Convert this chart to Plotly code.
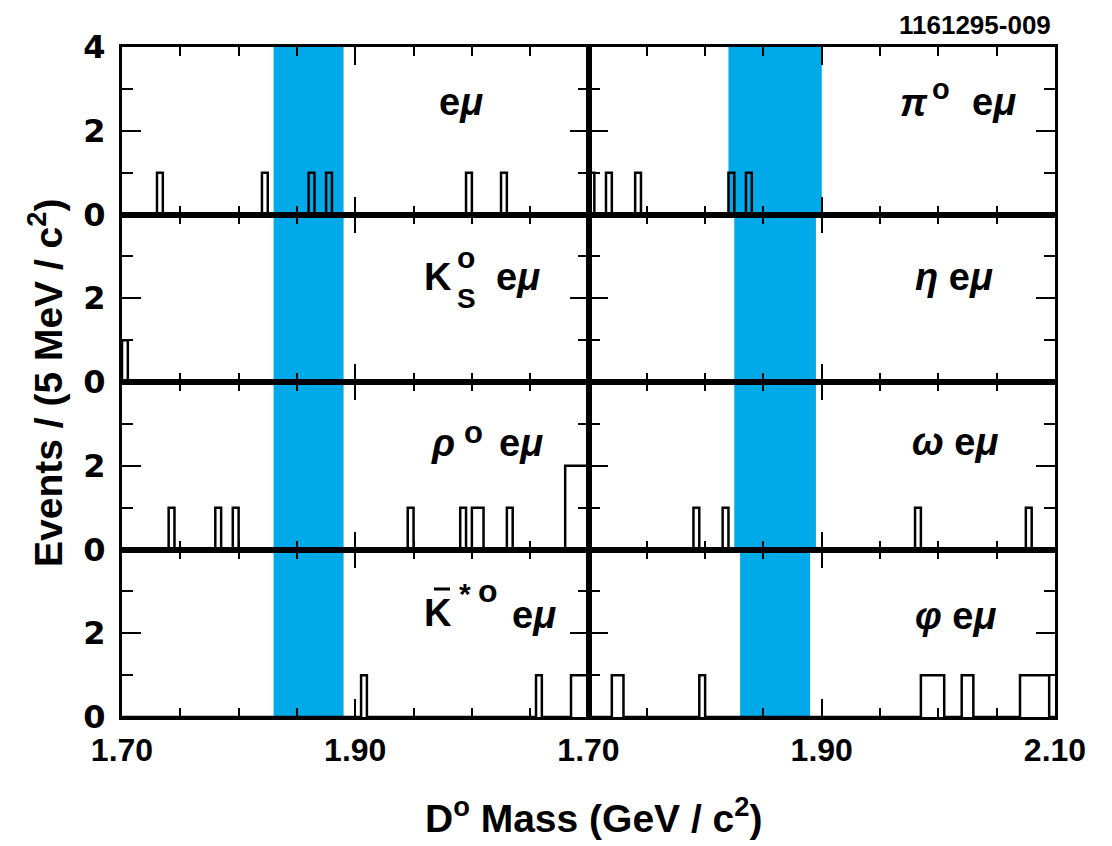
import plotly.graph_objects as go
from plotly.subplots import make_subplots

# ---------------- data ----------------
BIN_WIDTH = 0.005
X_MIN, X_MAX = 1.70, 2.10

# low edges of non-empty 5 MeV bins and their counts, one pair per decay mode
emu_bins = [1.730, 1.820, 1.860, 1.875, 1.995, 2.025]
emu_counts = [1, 1, 1, 1, 1, 1]

pi0_bins = [1.700, 1.715, 1.740, 1.820, 1.835]
pi0_counts = [1, 1, 1, 1, 1]

ks_bins = [1.700]
ks_counts = [1]

eta_bins = []
eta_counts = []

rho_bins = [1.740, 1.780, 1.795, 1.945, 1.990, 2.000, 2.005, 2.030, 2.080, 2.085, 2.090, 2.095]
rho_counts = [1, 1, 1, 1, 1, 1, 1, 1, 2, 2, 2, 2]

omega_bins = [1.790, 1.815, 1.980, 2.075]
omega_counts = [1, 1, 1, 1]

kstar_bins = [1.905, 2.055, 2.085, 2.090, 2.095]
kstar_counts = [1, 1, 1, 1, 1]

phi_bins = [1.720, 1.725, 1.795, 1.985, 1.990, 1.995, 2.000, 2.020, 2.025,
            2.070, 2.075, 2.080, 2.085, 2.090]
phi_counts = [1] * 14

# signal windows (GeV/c^2)
window_lo = [1.830, 1.820, 1.830, 1.825, 1.830, 1.825, 1.830, 1.830]
window_hi = [1.890, 1.900, 1.890, 1.895, 1.890, 1.895, 1.890, 1.890]

x_tick_vals = [1.70, 1.90, 2.10]
x_tick_text_left = ["1.70", "1.90", ""]
x_tick_text_right = ["1.70", "1.90", "2.10"]
y_tick_vals = [0, 2, 4]

panels = [
    (1, 1, emu_bins, emu_counts),
    (1, 2, pi0_bins, pi0_counts),
    (2, 1, ks_bins, ks_counts),
    (2, 2, eta_bins, eta_counts),
    (3, 1, rho_bins, rho_counts),
    (3, 2, omega_bins, omega_counts),
    (4, 1, kstar_bins, kstar_counts),
    (4, 2, phi_bins, phi_counts),
]

# ---------------- figure ----------------
OFF = 8  # page body margin
W, H = 1112 - OFF, 846 - OFF
ML, MT = 122 - OFF, 47 - OFF
MR = W - (1055 - OFF)
MB = H - (717 - OFF)
PW, PH = W - ML - MR, H - MT - MB

def paper(sx, sy):
    """screen pixel -> paper coords"""
    fx, fy = sx - OFF, sy - OFF
    return (fx - ML) / PW, (H - MB - fy) / PH

fig = make_subplots(rows=4, cols=2, horizontal_spacing=0, vertical_spacing=0)

nbins = int(round((X_MAX - X_MIN) / BIN_WIDTH))
for idx, (r, c, bins, counts) in enumerate(panels):
    full = [0] * nbins
    for b, n in zip(bins, counts):
        k = int(round((b - X_MIN) / BIN_WIDTH))
        full[k] += n
    xs = [X_MIN] + [X_MIN + i * BIN_WIDTH for i in range(nbins)] + [X_MAX, X_MAX]
    ys = [0] + full + [full[-1], 0]
    fig.add_trace(go.Scatter(x=xs, y=ys, mode="lines", line=dict(color="black", width=2.5, shape="hv"),
                             showlegend=False, hoverinfo="skip"), row=r, col=c)
    i = idx + 1
    xr = "x" if i == 1 else f"x{i}"
    yr = "y domain" if i == 1 else f"y{i} domain"
    fig.add_shape(type="rect", xref=xr, yref=yr, x0=window_lo[idx], x1=window_hi[idx], y0=0, y1=1,
                  fillcolor="#00A9E8", line_width=0, layer="below")

tick_font = dict(family="Liberation Sans", size=32, color="black", weight="bold")
for r in range(1, 5):
    for c in range(1, 3):
        fig.update_xaxes(row=r, col=c, range=[X_MIN, X_MAX], showgrid=False, zeroline=False,
                         showline=True, linewidth=3, linecolor="black", mirror="ticks",
                         ticks="inside", ticklen=18, tickwidth=2, tickcolor="black",
                         tickvals=x_tick_vals,
                         ticktext=x_tick_text_left if c == 1 else x_tick_text_right,
                         showticklabels=(r == 4), tickfont=tick_font, ticklabelstandoff=3,
                         minor=dict(dtick=0.05, tick0=1.70, ticks="inside", ticklen=9,
                                    tickwidth=2, tickcolor="black", showgrid=False))
        fig.update_yaxes(row=r, col=c, range=[0, 4], showgrid=False, zeroline=False,
                         showline=True, linewidth=3, linecolor="black", mirror="ticks",
                         ticks="inside", ticklen=19, tickwidth=2, tickcolor="black",
                         tickvals=y_tick_vals,
                         ticktext=["0", "2", "4" if r == 1 else ""],
                         showticklabels=(c == 1), tickfont=dict(family="DejaVu Sans", size=32,
                                                                color="black", weight="bold"),
                         ticklabelstandoff=7,
                         minor=dict(dtick=1, tick0=0, ticks="inside", ticklen=11,
                                    tickwidth=2, tickcolor="black", showgrid=False))

LBL = 38
def ann(text, sx, sy, size, xanchor="center", yanchor="middle", angle=0, family="Liberation Sans"):
    x, y = paper(sx, sy)
    fig.add_annotation(text=text, x=x, y=y, xref="paper", yref="paper", xanchor=xanchor,
                       yanchor=yanchor, showarrow=False, textangle=angle,
                       font=dict(family=family, size=size, color="black"))

def greek(ch):
    return f"<i>{ch}</i>"

EMU = "<b>e" + greek("μ") + "</b>"

# "eμ" parts (right-anchored)
for sx, sy in [(485, 102), (1018, 102), (542, 277), (545, 443), (558, 615)]:
    ann(EMU, sx, sy, LBL, xanchor="right")
# η, ω, φ labels
ann("<b>" + greek("η") + " e" + greek("μ") + "</b>", 995, 277, LBL, xanchor="right")
ann("<b>" + greek("ω") + " e" + greek("μ") + "</b>", 1000, 442, LBL, xanchor="right")
ann("<b>" + greek("φ") + " e" + greek("μ") + "</b>", 998, 616, LBL, xanchor="right")

# pi0
ann("<b>" + greek("π") + "</b>", 914, 103, LBL)
ann("<b>o</b>", 941, 89, 29)
# K_S
ann("<b>K</b>", 454, 277, LBL, xanchor="right")
ann("<b>S</b>", 466, 298, 28)
ann("<b>o</b>", 466, 258, 30)
# rho0
ann("<b>" + greek("ρ") + "</b>", 443, 443, LBL)
ann("<b>o</b>", 473, 432, 31)
# anti-K*0
ann("<b>K</b>", 454, 613, LBL, xanchor="right")
ann("<b>*</b>", 465, 593, 30)
ann("<b>o</b>", 488, 591, 32)
x0, y0 = paper(434, 589)
x1, _ = paper(450, 589)
fig.add_shape(type="line", xref="paper", yref="paper", x0=x0, x1=x1, y0=y0, y1=y0,
              line=dict(color="black", width=3))

# axis titles
ann("<b>Events / (5 MeV / c<sup>2</sup>)</b>", 45, 383, 39, angle=-90)
ann("<b>D<sup>o</sup> Mass (GeV / c<sup>2</sup>)</b>", 594, 815, 39)
ann("<b>1161295-009</b>", 1053, 8, 26, xanchor="right", yanchor="top")

fig.update_layout(width=W, height=H, autosize=False, plot_bgcolor="white", paper_bgcolor="white",
                  margin=dict(l=ML, r=MR, t=MT, b=MB), showlegend=False)

fig.write_html("out.html")
